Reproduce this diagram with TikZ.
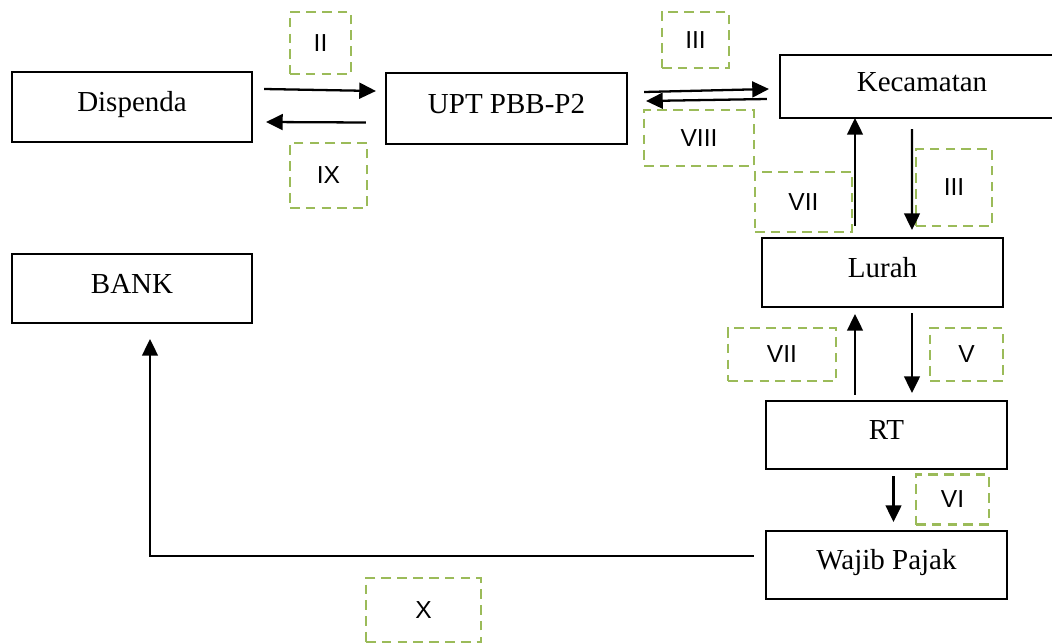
\documentclass[tikz,border=0pt]{standalone}
\usepackage{fontspec}
\setmainfont{Liberation Serif}
\newfontfamily\tahapfont{Liberation Sans}
\usetikzlibrary{%
  arrows.meta,%
  calc,% wg. ($ ... $)
  positioning%
}
\definecolor{tahapgreen}{RGB}{155,187,89}

\begin{document}
\begin{tikzpicture}[x=0.02cm,y=-0.02cm,line width=1.3pt,
    kotak/.style={draw, rectangle, line width=1.2pt, font=\fontsize{16.5}{20}\selectfont, text height=11.5pt, text depth=6pt},
    tahap/.style={draw=tahapgreen, dash pattern=on 5.5pt off 3.5pt, line width=1.5pt, font=\tahapfont\fontsize{14}{16}\selectfont},
    alur/.style={-{Triangle[length=9.5pt,width=9pt]}}]
    \useasboundingbox (0,0) rectangle (1052,643);

    %instansi
    \node[kotak, minimum width=4.8cm, minimum height=1.4cm] (disp) at (132,107) {Dispenda};
    \node[kotak, minimum width=4.82cm, minimum height=1.42cm] (upt) at (506.5,108.5) {UPT PBB-P2};
    \node[kotak, minimum width=5.68cm, minimum height=1.26cm] (kec) at (922,86.5) {Kecamatan};
    \node[kotak, minimum width=4.8cm, minimum height=1.38cm] (bank) at (132,288.5) {BANK};
    \node[kotak, minimum width=4.82cm, minimum height=1.38cm] (lurah) at (882.5,272.5) {Lurah};
    \node[kotak, minimum width=4.82cm, minimum height=1.36cm] (rt) at (886.5,435) {RT};
    \node[kotak, minimum width=4.82cm, minimum height=1.36cm] (wp) at (886.5,565) {Wajib Pajak};

    %tahap
    \node[tahap, minimum width=1.22cm, minimum height=1.24cm] (t_ii) at (320.5,43) {II};
    \node[tahap, minimum width=1.54cm, minimum height=1.3cm] (t_ix) at (328.5,175.5) {IX};
    \node[tahap, minimum width=1.34cm, minimum height=1.12cm] (t_iii-a) at (695.5,40) {III};
    \node[tahap, minimum width=2.2cm, minimum height=1.12cm] (t_viii) at (699,138) {VIII};
    \node[tahap, minimum width=1.94cm, minimum height=1.2cm] (t_vii-a) at (803.5,202) {VII};
    \node[tahap, minimum width=1.52cm, minimum height=1.54cm] (t_iii-b) at (954,187.5) {III};
    \node[tahap, minimum width=2.16cm, minimum height=1.06cm] (t_vii-b) at (782,354.5) {VII};
    \node[tahap, minimum width=1.46cm, minimum height=1.06cm] (t_v) at (966.5,354.5) {V};
    \node[tahap, minimum width=1.46cm, minimum height=1.0cm] (t_vi) at (952.5,499.5) {VI};
    \node[tahap, minimum width=2.3cm, minimum height=1.28cm] (t_x) at (423.5,610) {X};

    %alur
    \draw[alur] ($(disp.east)+(11,-18)$) -- ($(upt.west)+(-9,-17.5)$);
    \draw[alur] ($(upt.west)+(-19,14)$) -- ($(disp.east)+(13,15)$);
    \draw[alur] ($(upt.east)+(16,-16.5)$) -- ($(kec.west)+(-10,2.5)$);
    \draw[alur] ($(kec.west)+(-12,12.5)$) -- ($(upt.east)+(18,-7.5)$);
    \draw[alur] ($(lurah.north)+(-27.5,-11)$) -- ($(kec.south)+(-67,-1)$);
    \draw[alur] ($(kec.south)+(-10,10)$) -- ($(lurah.north)+(29.5,-7)$);
    \draw[alur] ($(rt.north)+(-31.5,-5)$) -- ($(lurah.south)+(-27.5,6)$);
    \draw[alur] ($(lurah.south)+(29.5,5)$) -- ($(rt.north)+(25.5,-7)$);
    \draw[alur] ($(rt.south)+(7,6)$) -- ($(wp.north)+(7,-8)$);
    \draw[alur] ($(wp.west)+(-11,-9)$) -| ($(bank.south)+(18,15)$);

\end{tikzpicture}
\end{document}
